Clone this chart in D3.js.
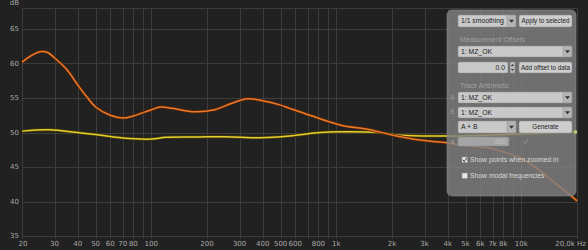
<!DOCTYPE html>
<html><head><meta charset="utf-8">
<script src="https://cdn.jsdelivr.net/npm/d3@7"></script>
<style>body{margin:0;background:#212121;overflow:hidden}svg{display:block}</style>
</head><body><svg id="c" width="588" height="250"></svg>
<script>
const freqOrange = [20,22,25,27.5,30,35,40,45,50,60,70,80,100,112,130,172,220,270,330,400,495,560,720,1045,1520,2025,2830,3950,4400,5500,6600,8000,9900,12000,15000,17500,20000];
const dbOrange   = [60.2,61.0,61.7,61.6,60.8,59.1,56.9,55.1,53.7,52.5,52.1,52.4,53.3,53.7,53.5,53.0,53.3,54.2,54.9,54.6,54.0,53.5,52.5,51.1,50.4,49.6,48.9,48.5,48.3,48.0,47.8,47.2,46.3,44.9,42.8,41.4,40.1];
const freqYellow = [20,28,40,50,70,100,120,180,250,390,560,820,1050,1700,2200,4000,8000,20000];
const dbYellow   = [50.2,50.4,50.0,49.7,49.2,49.05,49.3,49.35,49.4,49.25,49.5,50.0,50.1,50.0,49.6,49.5,49.7,50.1];
const yTicks = [35,40,45,50,55,60,65];
const xTickVals = [20,30,40,50,60,70,80,100,200,300,400,500,600,800,1000,2000,3000,4000,5000,6000,7000,8000,10000,20000];
const xTickLabels = ["20","30","40","50","60","70","80","100","200","300","400","500","600","800","1k","2k","3k","4k","5k","6k","7k","8k","10k","20,0k Hz"];

const svg = d3.select("#c");
const x = d3.scaleLog().domain([20,20000]).range([22,577]);
const y = d3.scaleLinear().domain([34.57,68.04]).range([239,8]);

// grid
const minor = [];
for (let d=10; d<=10000; d*=10) for (let m=1; m<10; m++) { const f=d*m; if (f>=20 && f<=20000) minor.push(f); }
minor.push(20000);
const g = svg.append("g");
g.selectAll("line.v").data(minor).join("line")
  .attr("x1", d=>Math.round(x(d))+0.5).attr("x2", d=>Math.round(x(d))+0.5)
  .attr("y1", 8).attr("y2", 239).attr("stroke", "#3c3c3c").attr("stroke-width", 1);
g.selectAll("line.h").data(yTicks.concat([68.04])).join("line")
  .attr("x1", 22).attr("x2", 577)
  .attr("y1", d=>Math.round(y(d))+0.5).attr("y2", d=>Math.round(y(d))+0.5)
  .attr("stroke", "#3c3c3c").attr("stroke-width", 1);

// axes labels
const font = "'DejaVu Sans', sans-serif";
svg.append("g").selectAll("text").data(yTicks).join("text")
  .attr("x", 19).attr("y", d=>y(d)).attr("dy", "0.35em").attr("text-anchor", "end")
  .attr("fill", "#a8a8a8").attr("font-family", font).attr("font-size", 7).text(d=>d);
svg.append("text").attr("x", 19).attr("y", 5).attr("text-anchor", "end")
  .attr("fill", "#a8a8a8").attr("font-family", font).attr("font-size", 7).text("dB");
svg.append("g").selectAll("text").data(xTickVals).join("text")
  .attr("x", d=> d===20000 ? 586 : x(d)+(d===20?1:0)).attr("y", 246)
  .attr("text-anchor", d=> d===20000 ? "end" : "middle")
  .attr("fill", "#a8a8a8").attr("font-family", font).attr("font-size", 7)
  .text((d,i)=>xTickLabels[i]);

// curves
const line = d3.line().x(d=>x(d[0])).y(d=>y(d[1])).curve(d3.curveCatmullRom.alpha(0.5));
const yel = freqYellow.map((f,i)=>[f,dbYellow[i]]);
const ora = freqOrange.map((f,i)=>[f,dbOrange[i]]);
svg.append("path").attr("d", line(yel)).attr("fill","none").attr("stroke","#4a3c08").attr("stroke-width",3);
svg.append("path").attr("d", line(yel)).attr("fill","none").attr("stroke","#e6cf30").attr("stroke-width",1.5);
svg.append("path").attr("d", line(ora)).attr("fill","none").attr("stroke","#5a2606").attr("stroke-width",3);
svg.append("path").attr("d", line(ora)).attr("fill","none").attr("stroke","#e97a2c").attr("stroke-width",1.5);

// panel
const p = svg.append("g");
p.append("rect").attr("x",447).attr("y",10).attr("width",129).attr("height",186).attr("rx",5)
  .attr("fill","rgb(128,128,128)").attr("fill-opacity",0.82).attr("stroke","#8a8a8a").attr("stroke-width",0.6);
const pf = "'Liberation Sans', Arial, sans-serif";
function field(x0,y0,w,h,txt,opts={}) {
  p.append("rect").attr("x",x0).attr("y",y0).attr("width",w).attr("height",h).attr("rx",1.5)
    .attr("fill", opts.disabled ? "#a4a4a4" : "#c9c9c9").attr("stroke","#8c8c8c").attr("stroke-width",0.5);
  if (opts.arrow) {
    p.append("rect").attr("x",x0+w-9).attr("y",y0).attr("width",9).attr("height",h).attr("rx",1.5)
      .attr("fill","#b4b4b4").attr("stroke","#8c8c8c").attr("stroke-width",0.5);
    const cx=x0+w-4.5, cy=y0+h/2;
    p.append("path").attr("d",`M${cx-2.5},${cy-1.2}L${cx+2.5},${cy-1.2}L${cx},${cy+1.8}Z`).attr("fill","#333");
  }
  p.append("text").attr("x", opts.right ? x0+w-(opts.rpad||3) : x0+3).attr("y", y0+h/2).attr("dy","0.35em")
    .attr("text-anchor", opts.right ? "end" : "start")
    .attr("fill", opts.disabled ? "#c4c4c4" : "#222").attr("font-family",pf).attr("font-size",6.8).text(txt);
}
function button(x0,y0,w,h,txt) {
  p.append("rect").attr("x",x0).attr("y",y0).attr("width",w).attr("height",h).attr("rx",2)
    .attr("fill","#cdcdcd").attr("stroke","#8a8a8a").attr("stroke-width",0.5);
  p.append("text").attr("x",x0+w/2).attr("y",y0+h/2).attr("dy","0.35em").attr("text-anchor","middle")
    .attr("fill","#222").attr("font-family",pf).attr("font-size",6.3).text(txt);
}
function label(x0,y0,txt,col) {
  p.append("text").attr("x",x0).attr("y",y0).attr("dy","0.35em").attr("fill",col||"#a2a2a2")
    .attr("font-family",pf).attr("font-size",6.8).text(txt);
}
field(458,15,58,12,"1/1 smoothing",{arrow:true});
button(519,15,53,12,"Apply to selected");
label(460,40,"Measurement Offsets");
field(458,46,114,11,"1: MZ_OK",{arrow:true});
field(458,62,50,11,"0.0",{right:true});
p.append("rect").attr("x",510).attr("y",62).attr("width",5).attr("height",11).attr("fill","#b8b8b8").attr("stroke","#8c8c8c").attr("stroke-width",0.4);
p.append("path").attr("d","M510.8,66L512.5,64L514.2,66ZM510.8,69L512.5,71L514.2,69Z").attr("fill","#444");
button(519,62,53,11,"Add offset to data");
label(460,86,"Trace Arithmetic");
label(450,98,"A","#9c9c9c");
field(458,92,114,11,"1: MZ_OK",{arrow:true});
label(450,112,"B","#9c9c9c");
field(458,107,114,11,"1: MZ_OK",{arrow:true});
field(458,121,58,12,"A + B",{arrow:true});
button(519,121,53,12,"Generate");
label(451,142,"x","#a8a8a8");
field(458,137,51,9,"200",{right:true,disabled:true});
p.append("path").attr("d","M523.5,141.5L525,143.5L528,139").attr("fill","none").attr("stroke","#a8a8a8").attr("stroke-width",0.7);
function checkbox(x0,y0,checked,txt) {
  p.append("rect").attr("x",x0).attr("y",y0).attr("width",5.5).attr("height",5.5)
    .attr("fill","#e8e8e8").attr("stroke","#8a8a8a").attr("stroke-width",0.5);
  if (checked) p.append("path").attr("d",`M${x0+1},${y0+2.8}L${x0+2.3},${y0+4.6}L${x0+5},${y0+0.6}`)
    .attr("fill","none").attr("stroke","#222").attr("stroke-width",0.9);
  label(x0+8,y0+2.9,txt,"#dadada");
}
checkbox(462,157,true,"Show points when zoomed in");
checkbox(462,173,false,"Show modal frequencies");
p.append("rect").attr("x",574).attr("y",130.5).attr("width",3).attr("height",3).attr("fill","#b8d070");
</script></body></html>
